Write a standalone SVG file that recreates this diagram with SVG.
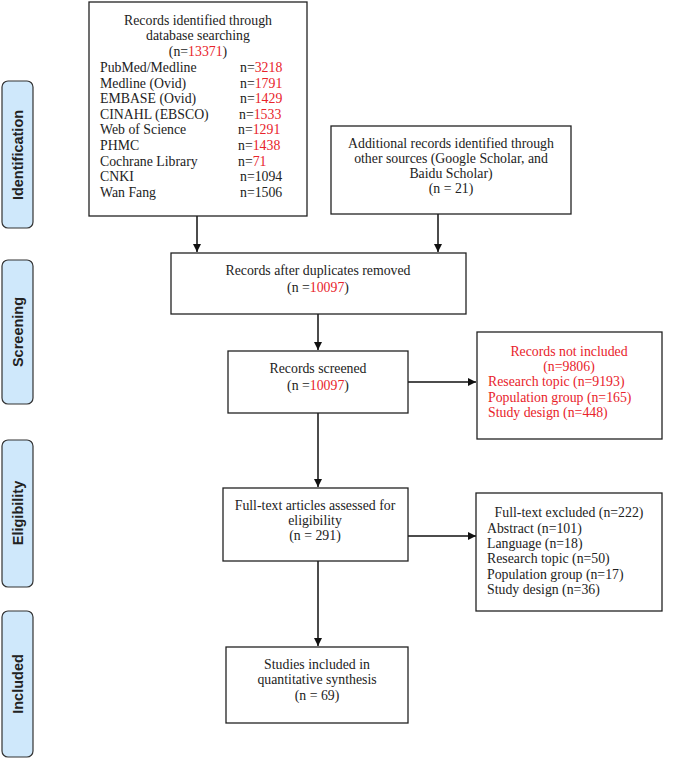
<svg xmlns="http://www.w3.org/2000/svg" width="685" height="759" viewBox="0 0 685 759">
<style>
.box{fill:#fff;stroke:#222;stroke-width:1.3}
.lab{fill:#cfe8fb;stroke:#333;stroke-width:1.2}
.t{font-family:"Liberation Serif","Times New Roman",serif;font-size:13.8px;fill:#222}
.c{text-anchor:middle}
.r{fill:#e8232b}
.lt{font-family:"Liberation Sans",Arial,sans-serif;font-size:14.5px;font-weight:bold;fill:#222;text-anchor:middle}
.ln{stroke:#111;stroke-width:1.5;fill:none}
</style>
<defs>
<marker id="ah" viewBox="0 0 10 10" refX="10" refY="5" markerWidth="8" markerHeight="8" markerUnits="userSpaceOnUse" orient="auto">
<path d="M0,0 L10,5 L0,10 Z" fill="#111"/>
</marker>
</defs>
<g id="labels">
<g id="lab-identification"><rect class="lab" x="2" y="81" width="31" height="147" rx="6"/><text class="lt" transform="translate(23,155) rotate(-90)">Identification</text></g>
<g id="lab-screening"><rect class="lab" x="2" y="260" width="31" height="144" rx="6"/><text class="lt" transform="translate(23,332) rotate(-90)">Screening</text></g>
<g id="lab-eligibility"><rect class="lab" x="2" y="440" width="31" height="147" rx="6"/><text class="lt" transform="translate(23,513) rotate(-90)">Eligibility</text></g>
<g id="lab-included"><rect class="lab" x="2" y="611" width="31" height="146" rx="6"/><text class="lt" transform="translate(23,684) rotate(-90)">Included</text></g>
</g>
<g id="connectors">
<line class="ln" x1="197" y1="216" x2="197" y2="252" marker-end="url(#ah)"/>
<line class="ln" x1="438" y1="214" x2="438" y2="252" marker-end="url(#ah)"/>
<line class="ln" x1="318" y1="314" x2="318" y2="350" marker-end="url(#ah)"/>
<line class="ln" x1="408" y1="382" x2="476" y2="382" marker-end="url(#ah)"/>
<line class="ln" x1="318" y1="413" x2="318" y2="487" marker-end="url(#ah)"/>
<line class="ln" x1="408" y1="536" x2="476" y2="536" marker-end="url(#ah)"/>
<line class="ln" x1="318" y1="561" x2="318" y2="646" marker-end="url(#ah)"/>
</g>
<g id="n-database">
<rect class="box" x="89" y="2" width="218" height="214"/>
<text class="t c" x="198" y="25">Records identified through</text>
<text class="t c" x="198" y="40">database searching</text>
<text class="t c" x="198" y="56">(n=<tspan class="r">13371</tspan>)</text>
<text class="t" x="100" y="72">PubMed/Medline</text><text class="t" x="240" y="72">n=<tspan class="r">3218</tspan></text>
<text class="t" x="100" y="88">Medline (Ovid)</text><text class="t" x="240" y="88">n=<tspan class="r">1791</tspan></text>
<text class="t" x="100" y="103">EMBASE (Ovid)</text><text class="t" x="240" y="103">n=<tspan class="r">1429</tspan></text>
<text class="t" x="100" y="119">CINAHL (EBSCO)</text><text class="t" x="239" y="119">n=<tspan class="r">1533</tspan></text>
<text class="t" x="100" y="134">Web of Science</text><text class="t" x="238" y="134">n=<tspan class="r">1291</tspan></text>
<text class="t" x="100" y="150">PHMC</text><text class="t" x="238" y="150">n=<tspan class="r">1438</tspan></text>
<text class="t" x="100" y="166">Cochrane Library</text><text class="t" x="238" y="166">n=<tspan class="r">71</tspan></text>
<text class="t" x="100" y="181">CNKI</text><text class="t" x="240" y="181">n=1094</text>
<text class="t" x="100" y="197">Wan Fang</text><text class="t" x="240" y="197">n=1506</text>
</g>
<g id="n-additional">
<rect class="box" x="331" y="126" width="240" height="88"/>
<text class="t c" x="451" y="148">Additional records identified through</text>
<text class="t c" x="451" y="163">other sources (Google Scholar, and</text>
<text class="t c" x="451" y="178">Baidu Scholar)</text>
<text class="t c" x="451" y="193">(n = 21)</text>
</g>
<g id="n-duplicates">
<rect class="box" x="171" y="253" width="295" height="61"/>
<text class="t c" x="318" y="275">Records after duplicates removed</text>
<text class="t c" x="318" y="292">(n =<tspan class="r">10097</tspan>)</text>
</g>
<g id="n-screened">
<rect class="box" x="228" y="351" width="180" height="62"/>
<text class="t c" x="318" y="373">Records screened</text>
<text class="t c" x="318" y="390">(n =<tspan class="r">10097</tspan>)</text>
</g>
<g id="n-notincluded">
<rect class="box" x="477" y="332" width="185" height="107"/>
<text class="t c r" x="569" y="356">Records not included</text>
<text class="t c r" x="569" y="371">(n=9806)</text>
<text class="t r" x="488" y="386">Research topic (n=9193)</text>
<text class="t r" x="488" y="402">Population group (n=165)</text>
<text class="t r" x="488" y="417">Study design (n=448)</text>
</g>
<g id="n-fulltext">
<rect class="box" x="223" y="488" width="185" height="73"/>
<text class="t c" x="315" y="510">Full-text articles assessed for</text>
<text class="t c" x="315" y="525">eligibility</text>
<text class="t c" x="315" y="540">(n = 291)</text>
</g>
<g id="n-excluded">
<rect class="box" x="476" y="493" width="186" height="118"/>
<text class="t c" x="569" y="517">Full-text excluded (n=222)</text>
<text class="t" x="487" y="533">Abstract (n=101)</text>
<text class="t" x="487" y="548">Language (n=18)</text>
<text class="t" x="487" y="563">Research topic (n=50)</text>
<text class="t" x="487" y="579">Population group (n=17)</text>
<text class="t" x="487" y="594">Study design (n=36)</text>
</g>
<g id="n-included">
<rect class="box" x="226" y="647" width="182" height="76"/>
<text class="t c" x="317" y="669">Studies included in</text>
<text class="t c" x="317" y="684">quantitative synthesis</text>
<text class="t c" x="317" y="700">(n = 69)</text>
</g>
</svg>
